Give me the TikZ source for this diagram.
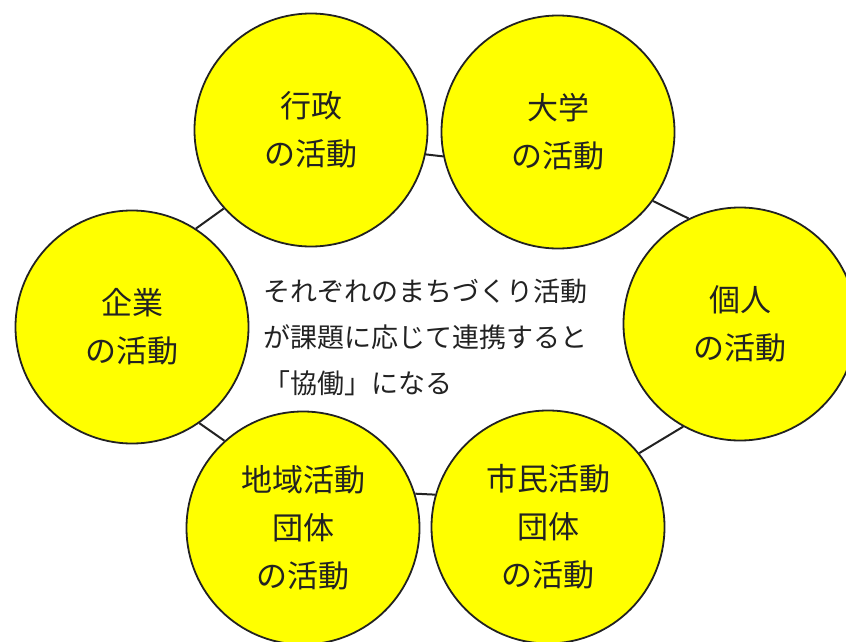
\documentclass[tikz,border=0pt]{standalone}
\usepackage{fontspec}
\newfontfamily\jp{Noto Sans CJK JP}
\definecolor{ylw}{HTML}{FFFF00}
\definecolor{ink}{HTML}{222222}
\tikzset{
  act/.style={circle, draw=ink, line width=1.8pt, fill=ylw, minimum size=233pt, inner sep=0pt,
    align=center, font=\jp\fontsize{31}{48}\selectfont, text=ink},
  link/.style={draw=ink, line width=2pt},
  centertext/.style={align=left, font=\jp\fontsize{27}{46}\selectfont, text=ink, inner sep=0pt}
}
\begin{document}
\begin{tikzpicture}[x=1pt,y=-1pt]
\useasboundingbox (0,0) rectangle (846,642);
\node[act] (gyosei) at (311,130) {行政\\の活動};
\node[act] (daigaku) at (558,132) {大学\\の活動};
\node[act] (kojin) at (740,324) {個人\\の活動};
\node[act] (kigyo) at (132,327) {企業\\の活動};
\node[act] (chiiki) at (303,528) {地域活動\\団体\\の活動};
\node[act] (shimin) at (548,527) {市民活動\\団体\\の活動};
\draw[link] (gyosei.-12) -- (daigaku.192);
\draw[link] (daigaku.-36) -- (kojin.116);
\draw[link] (gyosei.222) -- (kigyo.57);
\draw[link] (kigyo.-55) -- (chiiki.132);
\draw[link] (chiiki.17) -- (shimin.164);
\draw[link] (shimin.39) -- (kojin.241);
\node[centertext, anchor=west] (center) at (263,337) {それぞれのまちづくり活動\\が課題に応じて連携すると\\「協働」になる};
\end{tikzpicture}
\end{document}
